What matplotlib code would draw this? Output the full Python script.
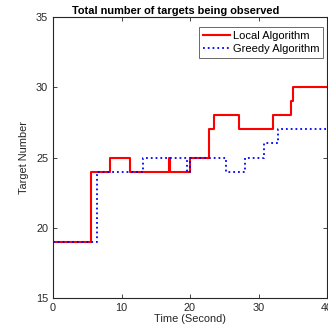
import matplotlib
matplotlib.use("Agg")
import matplotlib.pyplot as plt

# Data
local_t = [0, 5.5, 8.3, 11.2, 17.0, 17.15, 20.0, 22.8, 23.5, 27.1, 32.1, 34.8, 35.0, 40]
local_v = [19, 24, 25, 24, 25, 24, 25, 27, 28, 27, 28, 29, 30, 30]
greedy_t = [0, 6.4, 13.1, 19.6, 20.0, 25.2, 28.0, 30.8, 32.9, 40]
greedy_v = [19, 24, 25, 24, 25, 24, 25, 26, 27, 27]
x_ticks = [0, 10, 20, 30, 40]
y_ticks = [15, 20, 25, 30, 35]

plt.rcParams['font.family'] = ['Liberation Sans', 'DejaVu Sans']
dark = '#262626'

fig = plt.figure(figsize=(3.28, 3.35), dpi=100)
ax = fig.add_axes([53/328, 1-298/335, (327-53)/328, (298-17)/335])

ax.plot(local_t, local_v, drawstyle='steps-post', color='#ff0000', lw=1.5, label='Local Algorithm')
ax.plot(greedy_t, greedy_v, drawstyle='steps-post', color='#0000ff', lw=1.3, ls=':', label='Greedy Algorithm')

ax.set_xlim(0, 40)
ax.set_ylim(15, 35)
ax.set_xticks(x_ticks)
ax.set_yticks(y_ticks)
ax.tick_params(direction='in', top=True, right=True, labelsize=7.8, colors=dark, length=3, width=0.6)
for s in ax.spines.values():
    s.set_color(dark)
    s.set_linewidth(0.8)

ax.set_title('Total number of targets being observed', fontsize=7.9, fontweight='bold',
             pad=2.5, x=(176-53)/274)
ax.set_xlabel('Time (Second)', fontsize=7.9, color=dark, labelpad=1)
ax.set_ylabel('Target Number', fontsize=7.9, color=dark, labelpad=5)

leg = ax.legend(loc='upper right', fontsize=8, frameon=True, fancybox=False,
                edgecolor=dark, handlelength=2.4, handletextpad=0.25, borderpad=0.35,
                labelspacing=0.3, borderaxespad=0, bbox_to_anchor=(1-4/274, 1-10/281))
leg.get_frame().set_linewidth(0.6)

fig.savefig('out.png', dpi=100)
